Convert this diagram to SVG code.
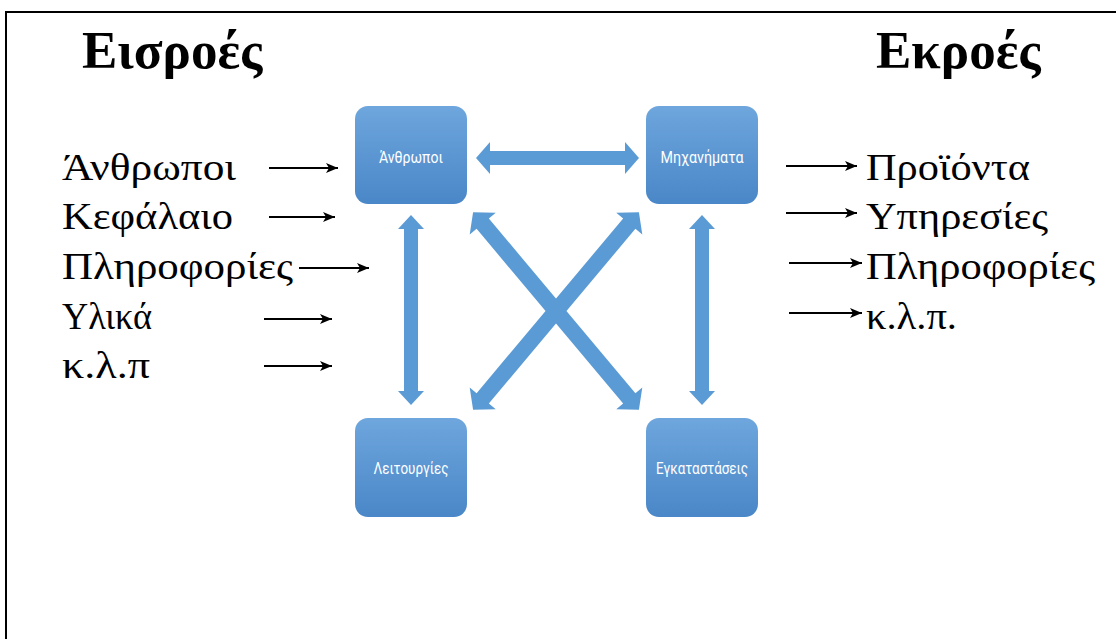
<svg xmlns="http://www.w3.org/2000/svg" width="1116" height="639" viewBox="0 0 1116 639">
<defs>
<linearGradient id="boxg" x1="0" y1="0" x2="0" y2="1">
<stop offset="0" stop-color="#6ea6dd"/>
<stop offset="1" stop-color="#4a87c8"/>
</linearGradient>
<marker id="ah" viewBox="0 0 12 10" refX="12" refY="5" markerWidth="12" markerHeight="10" markerUnits="userSpaceOnUse" orient="auto">
<path d="M0,0 L12,5 L0,10 L3,5 Z" fill="#000"/>
</marker>
<path id="dbl" d="M-129,0 L-114,-17 L-114,-8 L114,-8 L114,-17 L129,0 L114,17 L114,8 L-114,8 L-114,17 Z"/>
</defs>
<style>
.frame{stroke:#000;stroke-width:2;fill:none}
.title{font-family:"Liberation Serif","Times New Roman",serif;font-weight:bold;font-size:53px;fill:#000}
.item{font-family:"Liberation Serif","Times New Roman",serif;font-size:38px;fill:#000}
.box{fill:url(#boxg)}
.blabel{font-family:Roboto,"Open Sans",sans-serif;font-size:17px;fill:#fff;text-anchor:middle}
.thin{stroke:#000;stroke-width:2;fill:none;marker-end:url(#ah)}
.big{fill:#5b9bd5}
</style>
<rect width="1116" height="639" fill="#fff"/>
<path class="frame" d="M6,639 L6,12 L1116,12"/>

<text class="title" x="82" y="68">Εισροές</text>
<text class="title" x="876" y="68">Εκροές</text>

<g id="inputs">
<text class="item" x="62" y="180" textLength="174" lengthAdjust="spacingAndGlyphs">Άνθρωποι</text>
<text class="item" x="62" y="229" textLength="171" lengthAdjust="spacingAndGlyphs">Κεφάλαιο</text>
<text class="item" x="62" y="279" textLength="231" lengthAdjust="spacingAndGlyphs">Πληροφορίες</text>
<text class="item" x="62" y="329" textLength="90" lengthAdjust="spacingAndGlyphs">Υλικά</text>
<text class="item" x="62" y="378" textLength="88" lengthAdjust="spacingAndGlyphs">κ.λ.π</text>
</g>
<g id="outputs">
<text class="item" x="866" y="180" textLength="164" lengthAdjust="spacingAndGlyphs">Προϊόντα</text>
<text class="item" x="866" y="229" textLength="182" lengthAdjust="spacingAndGlyphs">Υπηρεσίες</text>
<text class="item" x="866" y="279" textLength="229" lengthAdjust="spacingAndGlyphs">Πληροφορίες</text>
<text class="item" x="866" y="329" textLength="91" lengthAdjust="spacingAndGlyphs">κ.λ.π.</text>
</g>

<g id="node-anthropoi">
<rect class="box" x="355" y="106" width="112" height="98" rx="13"/>
<text class="blabel" x="411" y="163" textLength="64" lengthAdjust="spacingAndGlyphs">Άνθρωποι</text>
</g>
<g id="node-michanimata">
<rect class="box" x="646" y="106" width="112" height="98" rx="13"/>
<text class="blabel" x="702" y="163" textLength="83" lengthAdjust="spacingAndGlyphs">Μηχανήματα</text>
</g>
<g id="node-leitourgies">
<rect class="box" x="355" y="418" width="112" height="99" rx="13"/>
<text class="blabel" x="411" y="474" textLength="75" lengthAdjust="spacingAndGlyphs">Λειτουργίες</text>
</g>
<g id="node-egkatastaseis">
<rect class="box" x="646" y="418" width="112" height="99" rx="13"/>
<text class="blabel" x="702" y="474" textLength="92" lengthAdjust="spacingAndGlyphs">Εγκαταστάσεις</text>
</g>

<g id="connectors">
<line class="thin" x1="269" y1="168" x2="338" y2="168"/>
<line class="thin" x1="269" y1="217" x2="335" y2="217"/>
<line class="thin" x1="299" y1="268" x2="369" y2="268"/>
<line class="thin" x1="264" y1="319" x2="332" y2="319"/>
<line class="thin" x1="264" y1="366" x2="332" y2="366"/>
<line class="thin" x1="786" y1="166" x2="857" y2="166"/>
<line class="thin" x1="786" y1="213" x2="857" y2="213"/>
<line class="thin" x1="789" y1="263" x2="862" y2="263"/>
<line class="thin" x1="789" y1="313" x2="862" y2="313"/>

<path class="big" d="M476,158 L490,142 L490,151 L625,151 L625,142 L639,158 L625,174 L625,165 L490,165 L490,174 Z"/>
<path class="big" d="M411,215 L424,229 L418,229 L418,391 L424,391 L411,405 L398,391 L404,391 L404,229 L398,229 Z"/>
<path class="big" d="M702,215 L715,229 L709,229 L709,391 L715,391 L702,405 L689,391 L695,391 L695,229 L689,229 Z"/>
<use href="#dbl" class="big" transform="translate(556,311) rotate(50)"/>
<use href="#dbl" class="big" transform="translate(556,311) rotate(130)"/>
</g>
</svg>
